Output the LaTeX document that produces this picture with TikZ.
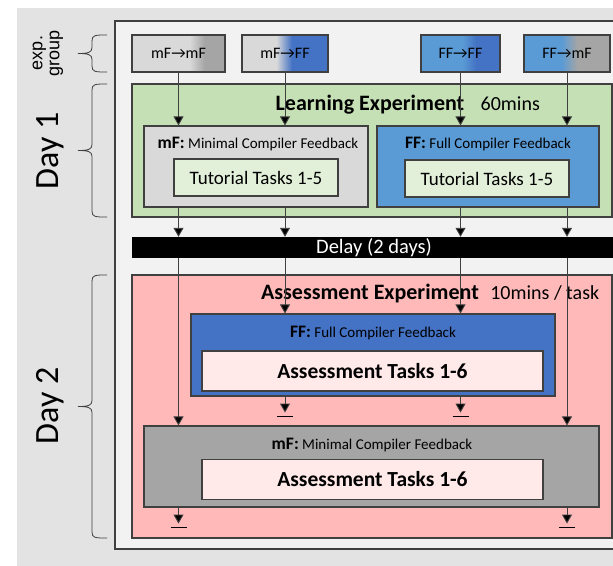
\documentclass[tikz,border=0pt]{standalone}
\usepackage{fontspec}
\setmainfont{Carlito}
\newfontfamily\expfont{Liberation Sans}
\usetikzlibrary{arrows.meta,positioning,calc}

\definecolor{bggray}{HTML}{E3E3E3}
\definecolor{panel}{HTML}{F2F2F2}
\definecolor{edge}{HTML}{404040}
\definecolor{learngreen}{HTML}{C5E0B4}
\definecolor{tutgreen}{HTML}{E2F0D9}
\definecolor{mflight}{HTML}{D9D9D9}
\definecolor{mfdark}{HTML}{A5A5A5}
\definecolor{fflight}{HTML}{5B9BD5}
\definecolor{ffdark}{HTML}{4472C4}
\definecolor{assesspink}{HTML}{FFB9B9}
\definecolor{taskpink}{HTML}{FFE9E9}

% colour change of the group boxes (box spans 25bp..75bp)
\pgfdeclarehorizontalshading{shademm}{100bp}{color(0bp)=(mflight); color(56bp)=(mflight); color(64bp)=(mfdark); color(100bp)=(mfdark)}
\pgfdeclarehorizontalshading{shademf}{100bp}{color(0bp)=(mflight); color(45bp)=(mflight); color(54bp)=(ffdark); color(100bp)=(ffdark)}
\pgfdeclarehorizontalshading{shadeff}{100bp}{color(0bp)=(fflight); color(51bp)=(fflight); color(60bp)=(ffdark); color(100bp)=(ffdark)}
\pgfdeclarehorizontalshading{shadefm}{100bp}{color(0bp)=(fflight); color(47bp)=(fflight); color(56bp)=(mfdark); color(100bp)=(mfdark)}

\newcommand{\sidebrace}[2]{%
  \pgfmathsetmacro{\bmid}{(#1+#2)/2}
  \draw[bracestyle] (107,#1) .. controls (95,#1) and (92,#1) .. (92,#1+6)
    -- (92,\bmid-6) .. controls (92,\bmid-1) and (88,\bmid) .. (78,\bmid)
    .. controls (88,\bmid) and (92,\bmid+1) .. (92,\bmid+6)
    -- (92,#2-6) .. controls (92,#2) and (95,#2) .. (107,#2);}

\begin{document}
\begin{tikzpicture}[x=1pt,y=-1pt,
    box/.style={draw=edge,line width=1.1pt,inner sep=0pt},
    grpbox/.style={box,minimum height=37pt,font=\fontsize{16}{18}\selectfont},
    condbox/.style={box,minimum width=224pt,minimum height=81pt},
    tutbox/.style={box,fill=tutgreen,minimum width=164pt,minimum height=37pt,font=\fontsize{19}{22}\selectfont},
    taskbox/.style={box,fill=taskpink,minimum width=341pt,minimum height=40pt,font=\fontsize{21.5}{24}\selectfont\bfseries},
    condtext/.style={inner sep=0pt,font=\fontsize{15}{17}\selectfont},
    titletext/.style={inner sep=0pt,font=\fontsize{22}{25}\selectfont\bfseries},
    timetext/.style={inner sep=0pt,font=\fontsize{20}{24}\selectfont},
    daytext/.style={inner sep=0pt,rotate=90,font=\fontsize{34}{36}\selectfont},
    flow/.style={draw=edge,line width=0.9pt,-{Triangle[width=10pt,length=9pt,fill=black]}},
    stopbar/.style={draw=black,line width=1.6pt},
    bracestyle/.style={draw=edge,line width=0.8pt}]
    \useasboundingbox (0,0) rectangle (613,565);
    \fill[bggray] (17,8) rectangle (640,580);
    \node[box,fill=panel,minimum width=520pt,minimum height=528pt] (frame) at (375,285) {};

    % groups
    \node[grpbox,shading=shademm,minimum width=93pt] (g1) at (178.5,53.5) {mF→mF};
    \node[grpbox,shading=shademf,minimum width=86pt] (g2) at (285,53.5) {mF→FF};
    \node[grpbox,shading=shadeff,minimum width=79pt] (g3) at (460.5,53.5) {FF→FF};
    \node[grpbox,shading=shadefm,minimum width=86pt] (g4) at (567,53.5) {FF→mF};

    % day 1
    \node[box,fill=learngreen,minimum width=480pt,minimum height=133pt] (learn) at (372,150.5) {};
    \node[titletext] (learntitle) at (370,105) {Learning Experiment};
    \node[timetext,base right=16pt of learntitle] (learntime) {60mins};
    \node[condbox,fill=mflight] (mfl) at (256,166.5) {};
    \node[condtext] (mfltext) at (258,144) {\textbf{\fontsize{17.5}{20}\selectfont mF:} Minimal Compiler Feedback};
    \node[tutbox] (tut1) at (256,177.5) {Tutorial Tasks 1-5};
    \node[condbox,fill=fflight,minimum width=222pt] (ffl) at (488,166.5) {};
    \node[condtext] (ffltext) at (488,144) {\textbf{\fontsize{17.5}{20}\selectfont FF:} Full Compiler Feedback};
    \node[tutbox] (tut2) at (487,178.5) {Tutorial Tasks 1-5};

    \node[fill=black,inner sep=0pt,minimum width=484pt,minimum height=21pt,text=white,font=\fontsize{20.5}{22}\selectfont] (delay) at (374,247.5) {Delay (2 days)};

    % day 2
    \node[box,fill=assesspink,minimum width=480pt,minimum height=263pt] (assess) at (372,406.5) {};
    \node[titletext] (assesstitle) at (370,294) {Assessment Experiment};
    \node[timetext,base right=11pt of assesstitle] (assesstime) {10mins / task};
    \node[box,fill=ffdark,minimum width=364pt,minimum height=82pt] (ffa) at (373,355) {};
    \node[condtext] (ffatext) at (373,333) {\textbf{\fontsize{17.5}{20}\selectfont FF:} Full Compiler Feedback};
    \node[taskbox] (task1) at (372.5,371) {Assessment Tasks 1-6};
    \node[box,fill=mfdark,minimum width=455pt,minimum height=81pt] (mfa) at (371.5,466.5) {};
    \node[condtext] (mfatext) at (372,445) {\textbf{\fontsize{17.5}{20}\selectfont mF:} Minimal Compiler Feedback};
    \node[taskbox] (task2) at (372.5,479.5) {Assessment Tasks 1-6};

    % flow of the four groups
    \draw[flow] (g1) -- (g1 |- mfl.north);
    \draw[flow] (g2) -- (g2 |- mfl.north);
    \draw[flow] (g3) -- (g3 |- ffl.north);
    \draw[flow] (g4) -- (g4 |- ffl.north);
    \draw[flow] (g1 |- mfl.south) -- (g1 |- delay.north);
    \draw[flow] (g2 |- mfl.south) -- (g2 |- delay.north);
    \draw[flow] (g3 |- ffl.south) -- (g3 |- delay.north);
    \draw[flow] (g4 |- ffl.south) -- (g4 |- delay.north);
    \draw[flow] (g1 |- delay.south) -- (g1 |- mfa.north);
    \draw[flow] (g2 |- delay.south) -- (g2 |- ffa.north);
    \draw[flow] (g3 |- delay.south) -- (g3 |- ffa.north);
    \draw[flow] (g4 |- delay.south) -- (g4 |- mfa.north);

    \coordinate (s1) at ($(g1 |- mfa.south)+(0,16)$);
    \coordinate (s2) at ($(g2 |- ffa.south)+(0,16)$);
    \coordinate (s3) at ($(g3 |- ffa.south)+(0,16)$);
    \coordinate (s4) at ($(g4 |- mfa.south)+(0,16)$);
    \draw[flow] (g1 |- mfa.south) -- (s1);
    \draw[flow] (g2 |- ffa.south) -- (s2);
    \draw[flow] (g3 |- ffa.south) -- (s3);
    \draw[flow] (g4 |- mfa.south) -- (s4);
    \draw[stopbar] ($(s1)+(-8,4)$) -- ($(s1)+(8,4)$);
    \draw[stopbar] ($(s2)+(-8,4)$) -- ($(s2)+(8,4)$);
    \draw[stopbar] ($(s3)+(-8,4)$) -- ($(s3)+(8,4)$);
    \draw[stopbar] ($(s4)+(-8,4)$) -- ($(s4)+(8,4)$);

    % left side
    \sidebrace{35}{72}
    \sidebrace{84}{217}
    \sidebrace{275}{538}
    \node[inner sep=0pt,rotate=90,align=center,font=\expfont\fontsize{18}{17}\selectfont] (exptext) at (48,53) {exp.\\group};
    \node[daytext] (day1) at (50,151) {Day 1};
    \node[daytext] (day2) at (50,406) {Day 2};
\end{tikzpicture}
\end{document}
